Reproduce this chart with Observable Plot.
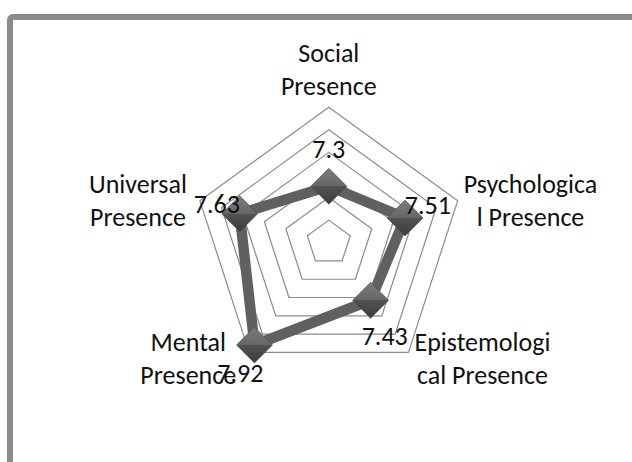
<!DOCTYPE html>
<html><head><meta charset="utf-8">
<script src="https://cdn.jsdelivr.net/npm/d3@7"></script>
<script src="https://cdn.jsdelivr.net/npm/@observablehq/plot@0.6"></script>
<style>
html,body{margin:0;padding:0;background:#fff;}
#wrap{position:relative;width:632px;height:462px;overflow:hidden;background:#fff;}
#frame{position:absolute;left:7px;top:14px;width:700px;height:600px;border:6px solid #8a8a8a;border-radius:6px;box-sizing:border-box;}
#chart{position:absolute;left:0;top:0;}
</style></head><body>
<div id="wrap"><div id="frame"></div><div id="chart"></div></div>
<script>
// ---- data ----
const categories = ["Social\nPresence", "Psychologica\nl Presence", "Epistemologi\ncal Presence", "Mental\nPresence", "Universal\nPresence"];
const values = [7.3, 7.51, 7.43, 7.92, 7.63];
const valueLabels = ["7.3", "7.51", "7.43", "7.92", "7.63"];
const ringTicks = [7.0, 7.2, 7.4, 7.6, 7.8, 8.0];
const axisMin = 6.8, axisMax = 8.0;

// ---- layout ----
const W = 632, H = 462;
const cx = 328.3, cy = 242.2, ppu = 135.5; // center and outer radius (px)
const FONT = 26, LH = 33;
const fontFamily = "Carlito, Lato, sans-serif";

const n = categories.length;
const ang = i => i * 2 * Math.PI / n;
const rad = v => (v - axisMin) / (axisMax - axisMin);
const polar = (i, r) => [r * Math.sin(ang(i)), r * Math.cos(ang(i))];

// rings
const ringPts = ringTicks.flatMap(t => d3.range(n + 1).map(k => {
  const [x, y] = polar(k % n, rad(t));
  return {x, y, t};
}));
// data polygon
const dataPts = d3.range(n + 1).map(k => {
  const [x, y] = polar(k % n, rad(values[k % n]));
  return {x, y};
});
const markers = values.map((v, i) => {
  const [x, y] = polar(i, rad(v));
  return {x, y, i};
});

// measure text
const ctx = document.createElement("canvas").getContext("2d");
ctx.font = `${FONT}px ${fontFamily}`;
const widest = s => d3.max(s.split("\n"), l => ctx.measureText(l).width);

const catLabels = categories.map((c, i) => {
  const [vx, vy] = polar(i, 1);
  const s = Math.sin(ang(i)), co = Math.cos(ang(i));
  let ox, odown;
  if (Math.abs(s) < 1e-6) { ox = 0; odown = -(LH / 2 + 23); }
  else {
    const side = Math.sign(s);
    const pad = side > 0 ? 6 : 13;
    ox = side * (pad + widest(c) / 2);
    odown = -6 * co;
  }
  return {x: vx + ox / ppu, y: vy - odown / ppu, text: c};
});

const valLabels = markers.map(m => {
  const s = Math.sin(ang(m.i)), co = Math.cos(ang(m.i));
  const side = Math.sign(Math.round(s * 1000));
  // label pushed outward from its marker; right-hand labels sit a little further out vertically
  const down = -co * (38 + 5 * side) + 1.5;
  return {x: m.x + (24 * s) / ppu, y: m.y - down / ppu, text: valueLabels[m.i]};
});

const plot = Plot.plot({
  width: W, height: H,
  margin: 0,
  x: {domain: [-cx / ppu, (W - cx) / ppu], axis: null},
  y: {domain: [-(H - cy) / ppu, cy / ppu], axis: null},
  style: {fontFamily, fontSize: FONT + "px", background: "transparent", overflow: "visible"},
  marks: [
    Plot.line(ringPts, {x: "x", y: "y", z: "t", stroke: "#8c8c8c", strokeWidth: 1.2}),
    Plot.line(dataPts, {x: "x", y: "y", stroke: "#606060", strokeWidth: 10.5, strokeLinejoin: "miter", curve: "linear"}),
    Plot.dot(markers, {x: "x", y: "y", symbol: "diamond2", r: 16.2, fill: "url(#mk)", stroke: "#4a4a4a", strokeWidth: 0.6}),
    Plot.text(catLabels, {x: "x", y: "y", text: "text", textAnchor: "middle", lineAnchor: "middle", lineHeight: LH / FONT, fill: "#111", fontSize: FONT}),
    Plot.text(valLabels, {x: "x", y: "y", text: "text", textAnchor: "middle", lineAnchor: "middle", fill: "#111", fontSize: FONT})
  ]
});

d3.select(plot).insert("defs", ":first-child").html(
  `<linearGradient id="mk" x1="0" y1="0" x2="0" y2="1">
     <stop offset="0" stop-color="#7c7c7c"/>
     <stop offset="0.5" stop-color="#666666"/>
     <stop offset="0.5" stop-color="#525252"/>
     <stop offset="1" stop-color="#3c3c3c"/>
   </linearGradient>`);

document.getElementById("chart").appendChild(plot);
</script>
</body></html>
